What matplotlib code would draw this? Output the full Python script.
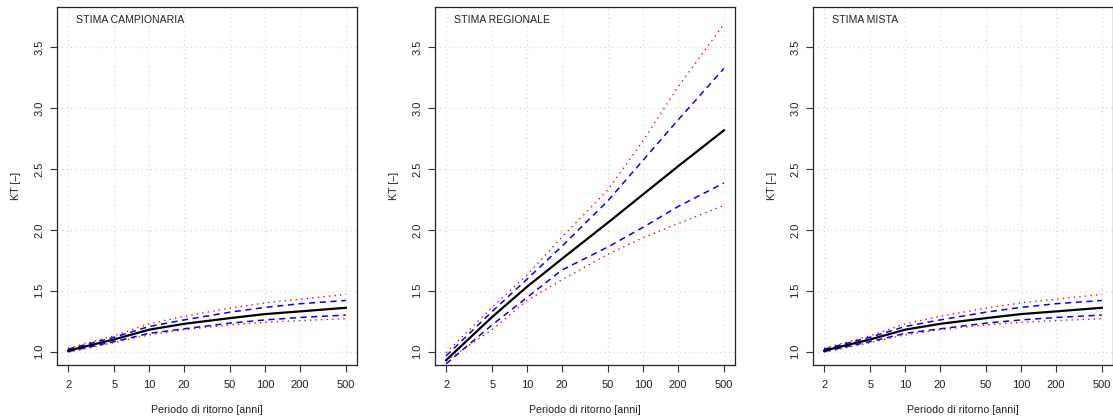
import numpy as np
import matplotlib
matplotlib.use("Agg")
import matplotlib.pyplot as plt
from matplotlib.ticker import FixedLocator, NullLocator, FixedFormatter

plt.rcParams['font.family'] = ['Liberation Sans', 'DejaVu Sans']

# return periods [anni]
T = [2, 5, 10, 20, 50, 100, 200, 500]
x_ticks = [2, 5, 10, 20, 50, 100, 200, 500]
y_ticks = [1.0, 1.5, 2.0, 2.5, 3.0, 3.5]

# stima campionaria
camp_kt = [1.008, 1.10, 1.18, 1.228, 1.275, 1.308, 1.33, 1.36]
camp_blue_hi = [1.02, 1.118, 1.206, 1.26, 1.324, 1.363, 1.393, 1.42]
camp_blue_lo = [1.0, 1.082, 1.15, 1.187, 1.234, 1.26, 1.28, 1.30]
camp_red_hi = [1.027, 1.13, 1.228, 1.29, 1.357, 1.40, 1.43, 1.47]
camp_red_lo = [0.995, 1.074, 1.137, 1.18, 1.22, 1.24, 1.255, 1.27]

# stima regionale
reg_kt = [0.93, 1.285, 1.533, 1.762, 2.06, 2.29, 2.52, 2.817]
reg_blue_hi = [0.965, 1.33, 1.595, 1.865, 2.24, 2.57, 2.90, 3.325]
reg_blue_lo = [0.90, 1.22, 1.445, 1.67, 1.86, 2.02, 2.19, 2.385]
reg_red_hi = [0.99, 1.365, 1.63, 1.94, 2.33, 2.73, 3.17, 3.69]
reg_red_lo = [0.925, 1.18, 1.42, 1.59, 1.80, 1.935, 2.05, 2.20]

# stima mista
mix_kt = [1.008, 1.10, 1.18, 1.228, 1.275, 1.308, 1.33, 1.36]
mix_blue_hi = [1.02, 1.118, 1.206, 1.26, 1.324, 1.363, 1.393, 1.42]
mix_blue_lo = [1.0, 1.082, 1.15, 1.187, 1.234, 1.26, 1.28, 1.30]
mix_red_hi = [1.027, 1.13, 1.228, 1.29, 1.357, 1.40, 1.43, 1.47]
mix_red_lo = [0.995, 1.074, 1.137, 1.18, 1.22, 1.24, 1.255, 1.27]

panels = [
    ("STIMA CAMPIONARIA", camp_kt, camp_blue_hi, camp_blue_lo, camp_red_hi, camp_red_lo),
    ("STIMA REGIONALE", reg_kt, reg_blue_hi, reg_blue_lo, reg_red_hi, reg_red_lo),
    ("STIMA MISTA", mix_kt, mix_blue_hi, mix_blue_lo, mix_red_hi, mix_red_lo),
]

fig = plt.figure(figsize=(11.13, 4.2), dpi=100)
lefts = [57, 435, 813]

ext = 0.04 * np.log10(500 / 2)
xlim = (2 / 10 ** ext, 500 * 10 ** ext)

for left, (title, kt, bhi, blo, rhi, rlo) in zip(lefts, panels):
    ax = fig.add_axes([left / 1113, 1 - 365 / 420, 300 / 1113, 358 / 420])
    ax.set_xscale('log')
    ax.set_xlim(*xlim)
    ax.set_ylim(0.89, 3.83)

    for xv in x_ticks:
        ax.axvline(xv, color='#d3d3d3', lw=0.8, ls=(0, (1, 3)), zorder=0)
    for yv in y_ticks:
        ax.axhline(yv, color='#d3d3d3', lw=0.8, ls=(0, (1, 3)), zorder=0)

    ax.plot(T, rhi, color='red', lw=1.0, ls=(0, (1, 3)))
    ax.plot(T, rlo, color='red', lw=1.0, ls=(0, (1, 3)))
    ax.plot(T, bhi, color='blue', lw=1.1, ls=(0, (4, 3)))
    ax.plot(T, blo, color='blue', lw=1.1, ls=(0, (4, 3)))
    ax.plot(T, kt, color='black', lw=1.6)

    ax.xaxis.set_major_locator(FixedLocator(x_ticks))
    ax.xaxis.set_major_formatter(FixedFormatter([str(v) for v in x_ticks]))
    ax.xaxis.set_minor_locator(NullLocator())
    ax.yaxis.set_major_locator(FixedLocator(y_ticks))
    ax.set_yticklabels(["%.1f" % v for v in y_ticks], rotation=90, va='center')
    ax.tick_params(direction='out', length=5, width=0.8, labelsize=8,
                   color='#333333', labelcolor='#222222')
    ax.tick_params(axis='x', pad=6)
    ax.tick_params(axis='y', pad=4)
    for sp in ax.spines.values():
        sp.set_linewidth(0.9)
        sp.set_color('#222222')

    ax.set_xlabel("Periodo di ritorno [anni]", fontsize=7.7, color='#222222', labelpad=10.5)
    ax.set_ylabel("KT [–]", fontsize=7.7, color='#222222', labelpad=10)
    ax.text(0.063, 0.964, title, transform=ax.transAxes, fontsize=7.6,
            va='center', ha='left', color='#222222')

fig.savefig("out.png", dpi=100)
